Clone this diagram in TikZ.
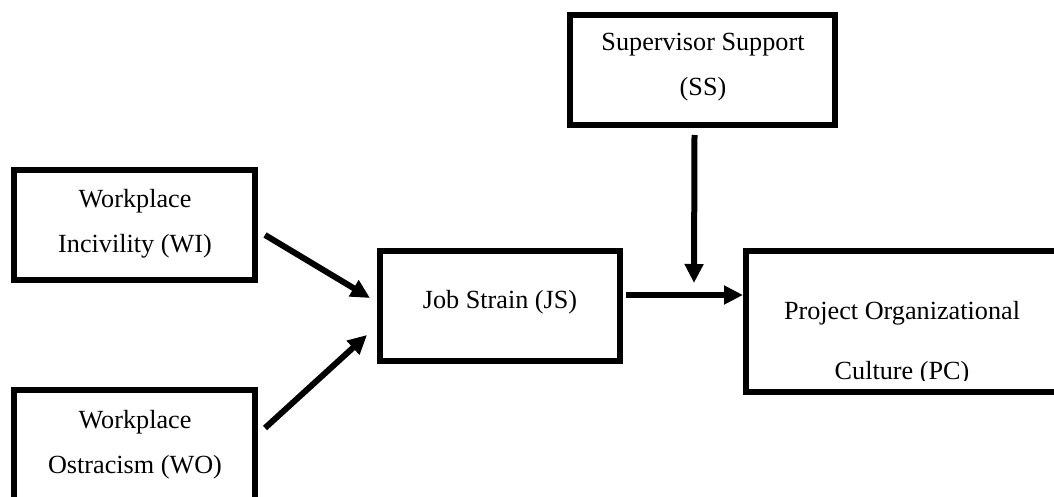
\documentclass[tikz,border=0pt]{standalone}
\usepackage{fontspec}
\setmainfont{Liberation Serif}
\usetikzlibrary{arrows.meta,calc}
\tikzset{
  boxshape/.style={draw, line width=3pt, inner sep=0pt, outer sep=0pt, anchor=north west},
  lbl/.style={align=center, inner sep=0pt, font=\fontsize{13.1pt}{22.5pt}\selectfont},
  arr/.style={line width=3pt, -{Triangle[width=9pt,length=9.5pt]}}
}
\begin{document}
\begin{tikzpicture}[x=0.5pt,y=-0.5pt]
\useasboundingbox (0,0) rectangle (1054,497);
\clip (0,0) rectangle (1054,497);
% boxes
\node[boxshape, minimum width=132.5pt, minimum height=55pt] (ss) at (570,15) {};
\node[boxshape, minimum width=120.5pt, minimum height=55pt] (wi) at (14,170) {};
\node[boxshape, minimum width=120.5pt, minimum height=60pt] (wo) at (14,390) {};
\node[boxshape, minimum width=120pt, minimum height=55pt] (js) at (380,251) {};
\node[boxshape, minimum width=156pt, minimum height=70.5pt] (pc) at (746,251) {};
% texts
\node[lbl] (sst) at (703,67.5) {Supervisor Support\\(SS)};
\node[lbl] (wit) at (135,223.5) {Workplace\\Incivility (WI)};
\node[lbl] (wot) at (135,444.5) {Workplace\\Ostracism (WO)};
\node[lbl] (jst) at (500,302) {Job Strain (JS)};
\node[lbl, anchor=base] (pct1) at (902,319) {Project Organizational};
\begin{scope}
  \clip (748,330) rectangle (1054,380.5);
  \node[lbl, anchor=base] (pct2) at (902,379) {Culture (PC)};
\end{scope}
% arrows
\coordinate (jc) at ($(js.north east)+(74,32)$);
\draw[arr] ([shift={(10,65)}]wi.north east) -- ([shift={(-10,47)}]js.north west);
\draw[arr] ([shift={(10,38)}]wo.north east) -- ([shift={(-13,-26)}]js.south west);
\draw[arr] ([shift={(6,44)}]js.north east) -- ([shift={(-3,44)}]pc.north west);
\draw[arr] ([shift={(-8,10)}]ss.south) -- (jc);
\end{tikzpicture}
\end{document}
